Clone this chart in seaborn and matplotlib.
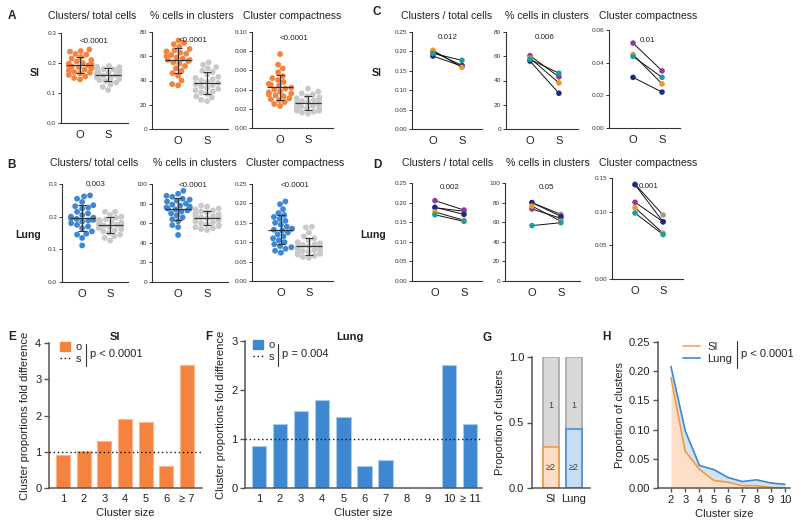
import numpy as np
import pandas as pd
import matplotlib
matplotlib.use("Agg")
import matplotlib.pyplot as plt
import seaborn as sns
from matplotlib.patches import Patch
from matplotlib.lines import Line2D

# ---------------- data ----------------
# A: SI, per-field values (O = orange group, S = gray group)
si_ratio_o = [0.245, 0.238, 0.24, 0.23, 0.228, 0.22, 0.215, 0.21, 0.205, 0.2, 0.198, 0.196, 0.195, 0.193,
              0.19, 0.188, 0.185, 0.182, 0.178, 0.175, 0.17, 0.168, 0.165, 0.16, 0.155, 0.15, 0.145]
si_ratio_s = [0.19, 0.188, 0.186, 0.185, 0.183, 0.18, 0.178, 0.176, 0.175, 0.172, 0.17, 0.168, 0.166, 0.165,
              0.163, 0.16, 0.158, 0.155, 0.152, 0.15, 0.147, 0.143, 0.14, 0.135, 0.128, 0.12, 0.11]
si_pct_o = [73, 71, 70, 68, 66, 65, 64, 63, 62, 61, 60, 59, 58, 57, 57, 56, 55, 54, 52, 50, 48, 46, 44, 40, 37, 36]
si_pct_s = [55, 53, 51, 50, 48, 47, 45, 43, 42, 41, 40, 39, 38, 37, 36, 35, 34, 33, 32, 31, 30, 29, 27, 26, 24, 23]
si_comp_o = [0.077, 0.066, 0.062, 0.058, 0.054, 0.052, 0.05, 0.048, 0.046, 0.045, 0.044, 0.042, 0.041, 0.04,
             0.038, 0.037, 0.036, 0.035, 0.034, 0.033, 0.031, 0.03, 0.029, 0.027, 0.025, 0.023]
si_comp_s = [0.041, 0.038, 0.036, 0.035, 0.033, 0.032, 0.031, 0.03, 0.029, 0.028, 0.027, 0.027, 0.026, 0.025,
             0.024, 0.023, 0.022, 0.022, 0.021, 0.02, 0.019, 0.018, 0.018, 0.017, 0.016, 0.015]

# B: Lung
lu_ratio_o = [0.265, 0.262, 0.255, 0.245, 0.235, 0.232, 0.228, 0.225, 0.215, 0.21, 0.205, 0.2, 0.197, 0.195,
              0.193, 0.19, 0.188, 0.185, 0.18, 0.175, 0.17, 0.165, 0.155, 0.148, 0.145, 0.135, 0.112]
lu_ratio_s = [0.215, 0.215, 0.205, 0.2, 0.197, 0.192, 0.19, 0.187, 0.185, 0.182, 0.18, 0.178, 0.176, 0.175,
              0.173, 0.17, 0.168, 0.165, 0.162, 0.158, 0.155, 0.15, 0.145, 0.14, 0.135, 0.127]
lu_pct_o = [93, 90, 88, 87, 85, 84, 83, 82, 80, 79, 78, 77, 76, 75, 75, 74, 73, 72, 70, 68, 66, 64, 62, 58, 56, 48]
lu_pct_s = [78, 77, 75, 74, 73, 72, 71, 70, 69, 68, 67, 66, 66, 65, 64, 63, 62, 61, 60, 59, 58, 57, 56, 55, 54, 53]
lu_comp_o = [0.205, 0.198, 0.185, 0.175, 0.17, 0.165, 0.16, 0.155, 0.15, 0.145, 0.14, 0.135, 0.132, 0.13,
             0.125, 0.12, 0.115, 0.11, 0.105, 0.1, 0.095, 0.09, 0.087, 0.083, 0.078, 0.073]
lu_comp_s = [0.14, 0.138, 0.125, 0.115, 0.11, 0.105, 0.1, 0.097, 0.095, 0.093, 0.09, 0.088, 0.086, 0.085,
             0.083, 0.08, 0.078, 0.077, 0.075, 0.073, 0.071, 0.07, 0.068, 0.065, 0.062, 0.06]

# C / D: per-mouse means, O then S
mice_si = ["purple", "navy", "orange", "teal"]
c_ratio_o = [0.199, 0.188, 0.203, 0.195]
c_ratio_s = [0.164, 0.162, 0.159, 0.177]
c_pct_o = [60.5, 56, 58.5, 57.5]
c_pct_s = [43, 29.5, 38, 46]
c_comp_o = [0.052, 0.031, 0.045, 0.0438]
c_comp_s = [0.035, 0.022, 0.027, 0.031]

mice_lung = ["gray", "purple", "navy", "orange", "teal"]
d_ratio_o = [0.187, 0.205, 0.188, 0.176, 0.169]
d_ratio_s = [0.178, 0.181, 0.170, 0.155, 0.152]
d_pct_o = [80, 73.5, 80, 76.5, 56.5]
d_pct_s = [68, 64, 66, 61, 59.5]
d_comp_o = [0.141, 0.114, 0.14, 0.106, 0.098]
d_comp_s = [0.095, 0.085, 0.085, 0.068, 0.066]

# E / F: fold difference by cluster size
e_sizes = ["1", "2", "3", "4", "5", "6", "≥ 7"]
e_fold = [0.91, 1.03, 1.3, 1.89, 1.83, 0.6, 3.38]
f_sizes = ["1", "2", "3", "4", "5", "6", "7", "8", "9", "10", "≥ 11"]
f_fold = [0.85, 1.31, 1.57, 1.79, 1.45, 0.45, 0.57, 0, 0, 2.51, 1.3]

# G: proportion of clusters
g_tissue = ["SI", "Lung"]
g_ge2 = [0.31, 0.45]

# H: proportion of clusters by size
h_size = [2, 3, 4, 5, 6, 7, 8, 9, 10]
h_si = [0.189, 0.063, 0.032, 0.013, 0.010, 0.004, 0.004, 0.001, 0.0]
h_lung = [0.208, 0.098, 0.0385, 0.0316, 0.018, 0.011, 0.014, 0.0086, 0.0063]

# ---------------- style ----------------
ORANGE = "#F4833F"
BLUE = "#3D88D0"
LGRAY = "#C9C9C9"
DARK = "#222222"
MOUSE_COL = {"purple": "#8A3C9E", "navy": "#1C2C7C", "orange": "#F7941D",
             "teal": "#18A0A0", "gray": "#9B9B9B"}

sns.set_theme(style="ticks")
plt.rcParams["font.family"] = ["Liberation Sans", "DejaVu Sans"]

W, H = 800, 529
fig = plt.figure(figsize=(8, 5.29), dpi=100)


def px_axes(l, r, t, b):
    return fig.add_axes([l / W, 1 - b / H, (r - l) / W, (b - t) / H])


def style_small(ax, yticks, fmt):
    sns.despine(ax=ax)
    for sp in ("left", "bottom"):
        ax.spines[sp].set_color("#333333")
        ax.spines[sp].set_linewidth(0.8)
    ax.set_yticks(yticks)
    ax.set_yticklabels([fmt.format(v) for v in yticks])
    ax.tick_params(axis="y", labelsize=4.6, length=2.5, width=0.7, pad=1, colors="#333333")
    ax.tick_params(axis="x", labelsize=8, length=0, pad=5, colors="#222222")
    ax.set_xlabel("")
    ax.set_ylabel("")


def dot_panel(box, o_vals, s_vals, color, ylim, yticks, fmt, xlim, ptxt, py):
    ax = px_axes(*box)
    df = pd.DataFrame({"group": ["O"] * len(o_vals) + ["S"] * len(s_vals),
                       "value": o_vals + s_vals})
    sns.swarmplot(data=df, x="group", y="value", hue="group", order=["O", "S"],
                  palette={"O": color, "S": LGRAY}, size=4.2, linewidth=0,
                  legend=False, ax=ax, zorder=2)
    for i, vals in enumerate([o_vals, s_vals]):
        m, sd = np.mean(vals), np.std(vals, ddof=1)
        ax.hlines(m, i - 0.45, i + 0.45, color="#333333", lw=0.9, zorder=4)
        ax.errorbar(i, m, yerr=sd, fmt="none", ecolor="#333333", elinewidth=0.8,
                    capsize=3.2, capthick=0.8, zorder=4)
    ax.set_ylim(*ylim)
    ax.set_xlim(*xlim)
    style_small(ax, yticks, fmt)
    ax.text(0.5, py, ptxt, transform=ax.get_xaxis_transform(), ha="center",
            va="center", fontsize=5.8, color=DARK)
    return ax


def pair_panel(box, mice, o_vals, s_vals, ylim, yticks, fmt, xlim, ptxt, py):
    ax = px_axes(*box)
    df = pd.DataFrame({"mouse": mice * 2, "pos": [0] * len(mice) + [1] * len(mice),
                       "value": o_vals + s_vals})
    sns.lineplot(data=df, x="pos", y="value", units="mouse", estimator=None,
                 color="#111111", lw=0.7, ax=ax, zorder=2)
    sns.scatterplot(data=df, x="pos", y="value", hue="mouse", hue_order=mice,
                    palette=MOUSE_COL, s=16, linewidth=0, legend=False, ax=ax, zorder=3)
    ax.set_xticks([0, 1])
    ax.set_xticklabels(["O", "S"])
    ax.set_ylim(*ylim)
    ax.set_xlim(*xlim)
    style_small(ax, yticks, fmt)
    ax.text(0.5, py, ptxt, transform=ax.get_xaxis_transform(), ha="center",
            va="center", fontsize=5.8, color=DARK)
    return ax


# ---------------- A ----------------
dot_panel((61, 128, 33, 123), si_ratio_o, si_ratio_s, ORANGE, (0, 0.3), [0, 0.1, 0.2, 0.3],
          "{:.1f}", (-0.68, 1.71), "<0.0001", 0.91)
dot_panel((152, 228, 32, 129), si_pct_o, si_pct_s, ORANGE, (0, 80), [0, 20, 40, 60, 80],
          "{:.0f}", (-0.9, 1.72), "<0.0001", 0.91)
dot_panel((252, 333, 32, 128), si_comp_o, si_comp_s, ORANGE, (0, 0.1),
          [0, 0.02, 0.04, 0.06, 0.08, 0.1], "{:.2f}", (-1.0, 1.89), "<0.0001", 0.93)

# ---------------- B ----------------
dot_panel((62, 128, 184, 282), lu_ratio_o, lu_ratio_s, BLUE, (0, 0.3), [0, 0.1, 0.2, 0.3],
          "{:.1f}", (-0.72, 1.64), "0.003", 0.99)
dot_panel((152, 228, 184, 282), lu_pct_o, lu_pct_s, BLUE, (0, 100), [0, 20, 40, 60, 80, 100],
          "{:.0f}", (-0.9, 1.72), "<0.0001", 0.98)
dot_panel((252, 333, 184, 281), lu_comp_o, lu_comp_s, BLUE, (0, 0.25),
          [0, 0.05, 0.1, 0.15, 0.2, 0.25], "{:.2f}", (-1.03, 1.86), "<0.0001", 0.98)

# ---------------- C ----------------
pair_panel((412, 482, 32, 129), mice_si, c_ratio_o, c_ratio_s, (0, 0.25),
           [0, 0.05, 0.1, 0.15, 0.2, 0.25], "{:.2f}", (-0.72, 1.69), "0.012", 0.94)
pair_panel((506, 578, 32, 129), mice_si, c_pct_o, c_pct_s, (0, 80), [0, 20, 40, 60, 80],
           "{:.0f}", (-0.83, 1.66), "0.006", 0.94)
pair_panel((609, 680, 30, 128), mice_si, c_comp_o, c_comp_s, (0, 0.06), [0, 0.02, 0.04, 0.06],
           "{:.2f}", (-0.83, 1.62), "0.01", 0.89)

# ---------------- D ----------------
pair_panel((412, 482, 183, 281), mice_lung, d_ratio_o, d_ratio_s, (0, 0.25),
           [0, 0.05, 0.1, 0.15, 0.2, 0.25], "{:.2f}", (-0.79, 1.62), "0.002", 0.95)
pair_panel((505, 580, 183, 281), mice_lung, d_pct_o, d_pct_s, (0, 100), [0, 20, 40, 60, 80, 100],
           "{:.0f}", (-0.93, 1.66), "0.05", 0.95)
pair_panel((612, 683, 178, 279), mice_lung, d_comp_o, d_comp_s, (0, 0.15), [0, 0.05, 0.1, 0.15],
           "{:.2f}", (-0.82, 1.71), "0.001", 0.92)

# titles and row labels for A-D
for x, t in [(92, "Clusters/ total cells"), (192, "% cells in clusters"), (292, "Cluster compactness"),
             (447, "Clusters / total cells"), (547, "% cells in clusters"), (648, "Cluster compactness")]:
    fig.text(x / W, 1 - 16 / H, t, ha="center", va="center", fontsize=7.6, color=DARK)
for x, t in [(94, "Clusters/ total cells"), (195, "% cells in clusters"), (295, "Cluster compactness"),
             (448, "Clusters / total cells"), (548, "% cells in clusters"), (648, "Cluster compactness")]:
    fig.text(x / W, 1 - 163 / H, t, ha="center", va="center", fontsize=7.6, color=DARK)
fig.text(35 / W, 1 - 73 / H, "SI", ha="center", va="center", fontsize=7.6, weight="bold", color=DARK)
fig.text(28 / W, 1 - 235 / H, "Lung", ha="center", va="center", fontsize=7.6, weight="bold", color=DARK)
fig.text(377 / W, 1 - 73 / H, "SI", ha="center", va="center", fontsize=7.6, weight="bold", color=DARK)
fig.text(373 / W, 1 - 235 / H, "Lung", ha="center", va="center", fontsize=7.6, weight="bold", color=DARK)

for x, y, t in [(12, 16, "A"), (12, 165, "B"), (377, 12, "C"), (377, 165, "D"),
                (12, 337, "E"), (209, 337, "F"), (487, 338, "G"), (606, 337, "H")]:
    fig.text(x / W, 1 - y / H, t, ha="center", va="center", fontsize=8.5, weight="bold", color=DARK)


def style_big(ax):
    sns.despine(ax=ax)
    for sp in ("left", "bottom"):
        ax.spines[sp].set_color("#555555")
        ax.spines[sp].set_linewidth(1.1)
    ax.tick_params(labelsize=8, length=3.5, width=1.0, colors="#555555", labelcolor="#222222", pad=2)


# ---------------- E / F ----------------
def fold_panel(box, sizes, vals, color, edge, ylim, title, title_x, ptxt, leg_x, leg_px, xlim):
    ax = px_axes(*box)
    sns.barplot(x=sizes, y=vals, order=sizes, color=color, width=0.68, edgecolor=edge,
                linewidth=0.8, saturation=1, ax=ax)
    ax.axhline(1, ls=(0, (1, 2)), color="#111111", lw=1.0, zorder=3)
    ax.set_ylim(*ylim)
    ax.set_xlim(*xlim)
    ax.set_yticks(range(int(ylim[1]) + 1))
    style_big(ax)
    ax.tick_params(axis="x", length=0, pad=4)
    ax.set_xlabel("Cluster size", fontsize=8, color=DARK, labelpad=3)
    ax.set_ylabel("Cluster proportions fold difference", fontsize=8, color=DARK, labelpad=4)
    fig.text(title_x / W, 1 - 337 / H, title, ha="center", va="center", fontsize=8,
             weight="bold", color=DARK)
    handles = [Patch(facecolor=color, edgecolor=color), Line2D([], [], ls=(0, (1, 2)), color="#111111", lw=1)]
    ax.legend(handles, ["o", "s"], loc="upper left", bbox_to_anchor=(leg_x, 1.01), frameon=False,
              fontsize=8, handlelength=0.9, handleheight=0.9, handletextpad=0.5, labelspacing=0.15,
              borderaxespad=0, borderpad=0)
    fig.add_artist(Line2D([leg_px / W] * 2, [1 - 344 / H, 1 - 366 / H], color="#333333", lw=0.8))
    fig.text((leg_px + 4) / W, 1 - 354 / H, ptxt, ha="left", va="center", fontsize=8, color=DARK)
    return ax


fold_panel((49, 202, 343, 488), e_sizes, e_fold, ORANGE, "#F9B68C", (0, 4), "SI", 115,
           "p < 0.0001", 0.07, 86, (-0.68, 6.72))
fold_panel((245, 482, 341, 488), f_sizes, f_fold, BLUE, "#A9CBEB", (0, 3), "Lung", 350,
           "p = 0.004", 0.035, 278, (-0.66, 10.57))

# ---------------- G ----------------
axg = px_axes(532, 590, 357, 488)
sns.barplot(x=g_tissue, y=[1.0, 1.0], order=g_tissue, color="#D8D8D8", width=0.7,
            edgecolor="#A8A8A8", linewidth=1.2, saturation=1, ax=axg)
sns.barplot(x=g_tissue, y=g_ge2, order=g_tissue, hue=g_tissue, palette=["#FDDDC6", "#C6DDF4"],
            width=0.7, linewidth=1.2, saturation=1, legend=False, ax=axg)
for p, ec in zip(axg.patches[2:], ["#F39A3C", "#4A90D9"]):
    p.set_edgecolor(ec)
for i, v in enumerate(g_ge2):
    axg.text(i, 0.63, "1", ha="center", va="center", fontsize=6.5, color="#444444")
    axg.text(i, 0.16, "≥2", ha="center", va="center", fontsize=6.5, color="#444444")
axg.set_ylim(0, 1.0)
axg.set_xlim(-0.83, 1.7)
axg.set_yticks([0, 0.5, 1.0])
axg.set_yticklabels(["0.0", "0.5", "1.0"])
style_big(axg)
axg.tick_params(axis="x", length=0, pad=4)
axg.set_ylabel("Proportion of clusters", fontsize=8, color=DARK, labelpad=3)

# ---------------- H ----------------
axh = px_axes(658, 790, 342, 488)
axh.fill_between(h_size, 0, h_si, color="#FDDFC9", lw=0)
axh.fill_between(h_size, h_si, h_lung, color="#D3E3F6", lw=0)
hdf = pd.DataFrame({"size": h_size * 2, "prop": h_si + h_lung,
                    "tissue": ["SI"] * len(h_size) + ["Lung"] * len(h_size)})
sns.lineplot(data=hdf, x="size", y="prop", hue="tissue", palette={"SI": "#F39A3C", "Lung": "#3D88D0"},
             lw=1.2, ax=axh, legend=False)
axh.set_xlim(1.09, 10.35)
axh.set_ylim(0, 0.25)
axh.set_xticks(h_size)
axh.set_yticks([0, 0.05, 0.1, 0.15, 0.2, 0.25])
axh.set_yticklabels(["0.00", "0.05", "0.10", "0.15", "0.20", "0.25"])
style_big(axh)
axh.tick_params(axis="x", length=3, pad=2)
axh.set_xlabel("Cluster size", fontsize=8, color=DARK, labelpad=3)
axh.set_ylabel("Proportion of clusters", fontsize=8, color=DARK, labelpad=3)
hh = [Line2D([], [], color="#F9A46A", lw=1.2), Line2D([], [], color="#3D88D0", lw=1.2)]
axh.legend(hh, ["SI", "Lung"], loc="upper left", bbox_to_anchor=(0.19, 1.0), frameon=False,
           fontsize=8, handlelength=1.5, handletextpad=0.7, labelspacing=0.15,
           borderaxespad=0, borderpad=0)
fig.add_artist(Line2D([737 / W] * 2, [1 - 341 / H, 1 - 368 / H], color="#333333", lw=0.8))
fig.text(741 / W, 1 - 354 / H, "p < 0.0001", ha="left", va="center", fontsize=8, color=DARK)

fig.savefig("out.png", dpi=100)
